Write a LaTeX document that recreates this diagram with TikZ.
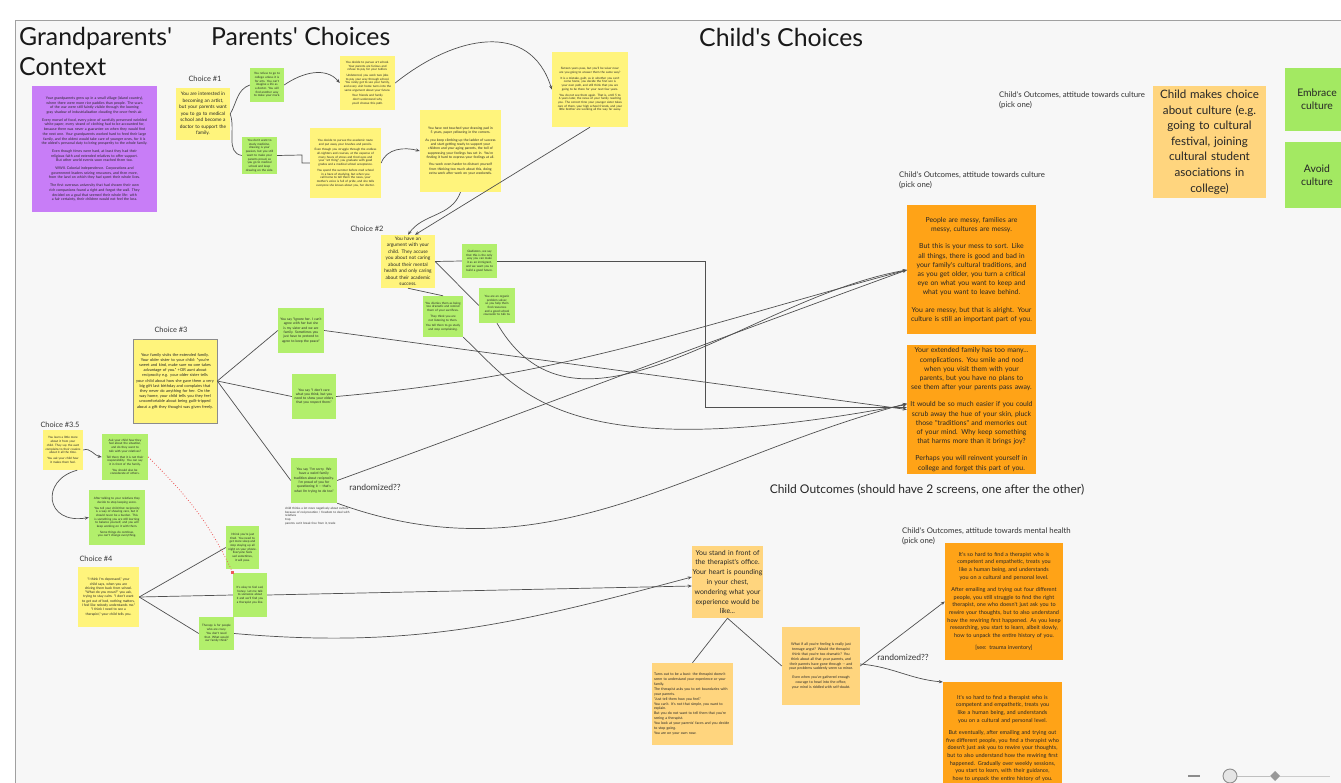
\documentclass[tikz,border=0pt]{standalone}
\usepackage{fontspec}
\setmainfont{Lato}
\newfontfamily\latofont{Lato}
\usetikzlibrary{arrows.meta}

\definecolor{canvas}{HTML}{F7F7F7}
\definecolor{frameline}{HTML}{A0A0A0}
\definecolor{stickyyellow}{HTML}{FFF47C}
\definecolor{stickygreen}{HTML}{B2EF6C}
\definecolor{choicegreen}{HTML}{A3E962}
\definecolor{stickyorange}{HTML}{FFA317}
\definecolor{stickypeach}{HTML}{FFD57E}
\definecolor{stickypurple}{HTML}{C87DF7}
\definecolor{wire}{HTML}{505050}
\definecolor{dotred}{HTML}{EE5A5A}

\newcommand\fsTiny{\fontsize{3.0}{3.7}\selectfont}
\newcommand\fsSmall{\fontsize{3.4}{4.3}\selectfont}
\newcommand\fsCtx{\fontsize{3.6}{4.7}\selectfont}
\newcommand\fsMid{\fontsize{4.0}{5.2}\selectfont}
\newcommand\fsChoice{\fontsize{4.8}{6.5}\selectfont}
\newcommand\fsOut{\fontsize{6.9}{9.2}\selectfont}
\newcommand\fsMH{\fontsize{5.5}{7.6}\selectfont}
\newcommand\fsPeach{\fontsize{6.9}{9.8}\selectfont}
\newcommand\fsLabel{\fontsize{7.4}{9}\selectfont}
\newcommand\fsNote{\fontsize{7.8}{9.2}\selectfont}
\newcommand\fsRand{\fontsize{8.5}{10}\selectfont}
\newcommand\fsSection{\fontsize{12}{14}\selectfont}
\newcommand\fsTitle{\fontsize{24.8}{30}\selectfont}

\hyphenpenalty=10000
\exhyphenpenalty=10000

\tikzset{
  sticky/.style={rectangle, inner sep=2pt, align=center, text=black!85},
  yel/.style={sticky, fill=stickyyellow},
  grn/.style={sticky, fill=stickygreen},
  org/.style={sticky, fill=stickyorange},
  peach/.style={sticky, fill=stickypeach},
  heading/.style={inner sep=0pt, anchor=west, font=\fsTitle, text=black!90},
  choicelabel/.style={inner sep=0pt, font=\fsLabel, text=black!80},
  caption/.style={inner sep=0pt, anchor=north west, align=left, font=\fsNote, text=black!80},
  wire/.style={draw=wire, line width=0.7pt},
  arr/.style={wire, -{Stealth[length=4pt,width=3.2pt]}},
  reddots/.style={draw=dotred, line width=0.8pt, dotted}
}

\begin{document}
\latofont
\begin{tikzpicture}[x=1pt,y=-1pt]
\useasboundingbox (0,0) rectangle (1341,783);
\fill[white] (0,0) rectangle (1341,783);
\fill[canvas] (15,20) rectangle (1341,783);
\draw[frameline, line width=0.9pt] (15,783) -- (15,20) -- (1341,20);

% ---------- section headings ----------
\node[heading] (hGrand) at (19,38) {Grandparents'};
\node[heading] (hContext) at (19,67) {Context};
\node[heading] (hParents) at (211,36) {Parents' Choices};
\node[heading] (hChild) at (699,37) {Child's Choices};

% ---------- grandparents' context ----------
\node[sticky, fill=stickypurple, minimum width=125pt, minimum height=126pt, text width=120pt, font=\fsCtx] (ctx) at (94.5,149) {
Your grandparents grew up in a small village (island country), where there were more rice paddies than people. The scars of the war were still faintly visible through the looming gray shadow of industrialization clouding the once-fresh air.\\[3pt]
Every morsel of food, every piece of carefully preserved wrinkled white paper, every strand of clothing had to be accounted for, because there was never a guarantee on when they would find the next one. Your grandparents worked hard to feed their large family, and the oldest would take care of younger ones, for it is the oldest's personal duty to bring prosperity to the whole family.\\[3pt]
Even though times were hard, at least they had their religious faith and extended relatives to offer support. But other world events soon reached them too.\\[3pt]
WWII. Colonial independence. Corporations and government leaders seizing resources, and then more, from the land on which they had spent their whole lives.\\[3pt]
The first overseas university that had chosen their own rich companions found a right and forgot the wall. They decided on a goal that seemed their whole life: with a fair certainty, their children would not feel the loss.};

% ---------- choice #1 ----------
\node[choicelabel] (lc1) at (205,79) {Choice \#1};
\node[yel, minimum width=54pt, minimum height=52pt, text width=52pt, inner xsep=1pt, font=\fsChoice] (c1) at (203,114)
{You are interested in\\becoming an artist,\\but your parents want\\you to go to medical\\school and become a\\doctor to support the\\family.};

\node[grn, minimum width=34pt, minimum height=34pt, text width=30pt, font=\fsTiny] (gA) at (267,85)
{You refuse to go to college unless it is for arts. You can't imagine a life as a doctor. You will find another way to make your mark.};
\node[grn, minimum width=35pt, minimum height=35pt, text width=31pt, font=\fsTiny] (gB) at (259.5,155.5)
{You don't want to study medicine, drawing is your passion, but you still want to make your parents proud, so you go to medical school and keep drawing on the side.};

\node[yel, minimum width=55pt, minimum height=54pt, text width=51pt, font=\fsTiny] (yC) at (367.5,83)
{You decide to pursue art school. Your parents are furious and refuse to pay for your tuition.\\[2pt]
Undeterred, you work two jobs to pay your way through school. You rarely get to see your family, and every visit home turns into the same argument about your future.\\[2pt]
Your friends and family don't understand why you'd choose this path.};

\node[yel, minimum width=71pt, minimum height=70pt, text width=67pt, font=\fsTiny] (yD) at (345.5,163)
{You decide to pursue the academic route and put away your brushes and pencils.\\[2pt]
Even though you struggle through the endless all-nighters and courses, at the expense of many hours of stress and tired eyes and your "art thing", you graduate with good grades and a medical school acceptance.\\[2pt]
You spend the summer before med school in a haze of studying, but when you call home to tell them the news, your mother's voice is full of pride, and she tells everyone she knows about you, her doctor.};

\node[yel, minimum width=81pt, minimum height=82pt, text width=76pt, font=\fsSmall] (yE) at (460.5,151)
{You have not touched your drawing pad in 5 years, paper yellowing in the corners.\\[3pt]
As you keep climbing up the ladder of success and start getting ready to support your children and your aging parents, the toll of suppressing your feelings has set in. You're finding it hard to express your feelings at all.\\[3pt]
You work even harder to distract yourself from thinking too much about this, doing extra work after work on your weekends.};

\node[yel, minimum width=76pt, minimum height=75pt, text width=72pt, font=\fsTiny] (yF) at (590,89.5)
{Sixteen years pass, but you'll be wiser now: are you going to answer them the same way?\\[2pt]
It is a mistake, guilt, as in whether you can't come home, you decide the first son is your own path, and still think that you are going to be there for your next few years.\\[2pt]
You do not see them again. That is, until 5 to 6 years later, the news of your family reaching you. The correct time your younger sister takes care of them, your high school friends, and your little brother are working all the way far away.};

% ---------- choice #2 ----------
\node[choicelabel] (lc2) at (367,229) {Choice \#2};
\node[yel, minimum width=54pt, minimum height=53pt, text width=52pt, inner xsep=1pt, font=\fsChoice] (c2) at (408,261.5)
{You have an\\argument with your\\child. They accuse\\you about not caring\\about their mental\\health and only caring\\about their academic\\success.};

\node[grn, minimum width=35pt, minimum height=34pt, text width=31pt, font=\fsTiny] (gG) at (479.5,261)
{Gladiators, we say that this is the only way you can make it as an immigrant, and we want you to build a good future.};
\node[grn, minimum width=36pt, minimum height=35pt, text width=32pt, font=\fsTiny] (gH) at (497,305.5)
{You are an organic problem solver, so you help them find resources and a good school counselor to talk to.};
\node[grn, minimum width=40pt, minimum height=41pt, text width=36pt, font=\fsTiny] (gI) at (443,316.5)
{You dismiss them as being too dramatic and remind them of your sacrifices.\\[2pt]
They think you are not listening to them.\\[2pt]
You tell them to go study and stop complaining.};

% ---------- choice #3 ----------
\node[choicelabel] (lc3) at (171,330) {Choice \#3};
\node[yel, draw=black!45, line width=0.6pt, minimum width=84pt, minimum height=84pt, text width=80pt, font=\fsMid] (c3) at (175,381)
{Your family visits the extended family. Your older sister to your child: "you're sweet and kind, make sure no one takes advantage of you." +OR aunt about reciprocity e.g. your older sister tells your child about how she gave them a very big gift last birthday and complains that they never do anything for her. On the way home, your child tells you they feel uncomfortable about being guilt-tripped about a gift they thought was given freely.};

\node[grn, minimum width=46pt, minimum height=45pt, text width=42pt, font=\fsSmall] (gJ) at (301,330.5)
{You say "Ignore her. I can't agree with her but she is my sister and we are family. Sometimes you just have to pretend to agree to keep the peace"};
\node[grn, minimum width=44pt, minimum height=45pt, text width=40pt, font=\fsSmall] (gK) at (314,396.5)
{You say "I don't care what you think, but you need to show your elders that you respect them."};
\node[grn, minimum width=46pt, minimum height=45pt, text width=42pt, font=\fsSmall] (gL) at (314,480.5)
{You say "I'm sorry. We have a weird family tradition about reciprocity. I'm proud of you for questioning it -- that's what I'm trying to do too"};
\node[caption, font=\fsTiny, text width=72pt] (noteL) at (285,507)
{child thinks a lot more negatively about culture because of reciprocation / freedom to deal with relatives\\trap\\parents can't break free from it, trade};
\node[inner sep=0pt, font=\fsRand, text=black!80] (rnd1) at (375,487) {randomized??};

% ---------- choice #3.5 ----------
\node[choicelabel] (lc35) at (60,425) {Choice \#3.5};
\node[yel, minimum width=40pt, minimum height=40pt, text width=36pt, font=\fsTiny] (y35) at (63,450)
{You learn a little more about it from your child. They say the aunt complains to their cousins about it all the time.\\[2pt]
You ask your child how it makes them feel.};
\node[grn, minimum width=46pt, minimum height=46pt, text width=42pt, font=\fsTiny] (gM) at (125,457)
{Ask your child how they feel about the situation, and do they want to talk with your relatives?\\[2pt]
Tell them that it is not their responsibility. You can say it in front of the family.\\[2pt]
You should also be considerate of others.};
\node[grn, minimum width=56pt, minimum height=55pt, text width=52pt, font=\fsTiny] (gN) at (117,517.5)
{After talking to your relatives they decide to stop keeping score.\\[2pt]
You tell your child that reciprocity is a way of showing care, but it should never be a burden. This is something you are still learning to balance yourself, and you will keep working on it with them.\\[2pt]
Some things do continue, you can't change everything.};

% ---------- choice #4 ----------
\node[choicelabel] (lc4) at (96,559) {Choice \#4};
\node[yel, minimum width=61pt, minimum height=60pt, text width=57pt, font=\fsSmall] (c4) at (108.5,597)
{"I think I'm depressed," your child says, when you are driving them back from school.\\
"What do you mean?" you ask, trying to stay calm. "I don't want to get out of bed, nothing matters, I feel like nobody understands me."\\
"I think I need to see a therapist," your child tells you.};

\node[grn, minimum width=33pt, minimum height=43pt, text width=29pt, font=\fsTiny] (gO) at (242.5,547.5)
{I think you're just tired. You need to get more sleep and stop staying up all night on your phone. Everyone feels sad sometimes, it will pass.};
\node[grn, minimum width=34pt, minimum height=44pt, text width=30pt, font=\fsTiny] (gP) at (250,595)
{It's okay to feel sad, honey. Let me talk to someone about it and we'll find you a therapist you like.};
\node[grn, minimum width=35pt, minimum height=33pt, text width=31pt, font=\fsTiny] (gQ) at (216.5,633.5)
{Therapy is for people who are crazy. You don't need that. What would our family think?};

% ---------- therapist branch ----------
\node[peach, minimum width=71pt, minimum height=72pt, text width=70pt, inner xsep=0.5pt, font=\fsPeach] (th) at (727.5,582)
{You stand in front of\\the therapist's office.\\Your heart is pounding\\in your chest,\\wondering what your\\experience would be\\like...};
\node[peach, minimum width=81pt, minimum height=82pt, text width=77pt, font=\fontsize{3.6}{4.9}\selectfont, align=left] (pR) at (692.5,704)
{Turns out to be a bust: the therapist doesn't seem to understand your experience or your family.\\
The therapist asks you to set boundaries with your parents.\\
"Just tell them how you feel."\\
You can't. It's not that simple, you want to explain.\\
But you do not want to tell them that you're seeing a therapist.\\
You look at your parents' faces and you decide to stop going.\\
You are on your own now.};
\node[peach, minimum width=78pt, minimum height=78pt, text width=74pt, font=\fontsize{3.6}{4.8}\selectfont] (pS) at (821,666)
{What if all you're feeling is really just teenage angst? Would the therapist think that you're too dramatic? You think about all that your parents, and their parents have gone through -- and your problems suddenly seem so minor.\\[4pt]
Even when you've gathered enough courage to head into the office, your mind is riddled with self-doubt.};
\node[inner sep=0pt, font=\fsRand, text=black!80] (rnd2) at (903,657) {randomized??};

% ---------- child outcomes ----------
\node[caption] (capTop) at (999,92) {Child's Outcomes, attitude towards culture\\(pick one)};
\node[caption] (capCult) at (899,172) {Child's Outcomes, attitude towards culture\\(pick one)};
\node[caption] (capMH) at (902,528) {Child's Outcomes, attitude towards mental health\\(pick one)};
\node[inner sep=0pt, font=\fsSection, text=black!85] (capScreens) at (927,490) {Child Outcomes (should have 2 screens, one after the other)};

\node[org, minimum width=129pt, minimum height=129pt, text width=125pt, font=\fsOut] (o1) at (971.5,270)
{People are messy, families are messy, cultures are messy.\\[8pt]
But this is your mess to sort. Like all things, there is good and bad in your family's cultural traditions, and as you get older, you turn a critical eye on what you want to keep and what you want to leave behind.\\[8pt]
You are messy, but that is alright. Your culture is still an important part of you.};
\node[org, minimum width=129pt, minimum height=129pt, text width=125pt, font=\fsOut] (o2) at (971.5,409.5)
{Your extended family has too many... complications. You smile and nod when you visit them with your parents, but you have no plans to see them after your parents pass away.\\[8pt]
It would be so much easier if you could scrub away the hue of your skin, pluck those "traditions" and memories out of your mind. Why keep something that harms more than it brings joy?\\[8pt]
Perhaps you will reinvent yourself in college and forget this part of you.};

\node[org, minimum width=118pt, minimum height=117pt, text width=114pt, font=\fsMH] (mh1) at (1004,601.5)
{It's so hard to find a therapist who is competent and empathetic, treats you like a human being, and understands you on a cultural and personal level.\\[5pt]
After emailing and trying out four different people, you still struggle to find the right therapist, one who doesn't just ask you to rewire your thoughts, but to also understand how the rewiring first happened. As you keep researching, you start to learn, albeit slowly, how to unpack the entire history of you.\\[5pt]
[see: trauma inventory]};
\node[org, anchor=north, minimum width=119pt, minimum height=110pt, text width=115pt, font=\fsMH] (mh2) at (1002.5,682)
{\rule{0pt}{6pt}It's so hard to find a therapist who is competent and empathetic, treats you like a human being, and understands you on a cultural and personal level.\\[5pt]
But eventually, after emailing and trying out five different people, you find a therapist who doesn't just ask you to rewire your thoughts, but to also understand how the rewiring first happened. Gradually over weekly sessions, you start to learn, with their guidance, how to unpack the entire history of you.};

\node[peach, minimum width=113pt, minimum height=112pt, text width=111pt, inner xsep=1pt, font=\fontsize{11.6}{15.6}\selectfont] (cm) at (1209.5,142)
{Child makes choice\\about culture (e.g.\\going to cultural\\festival, joining\\cultural student\\asociations in\\college)};
\node[sticky, fill=choicegreen, minimum width=64pt, minimum height=63pt, text width=58pt, font=\fontsize{10.4}{13}\selectfont] (emb) at (1317,99.5) {Embrace\\culture};
\node[sticky, fill=choicegreen, minimum width=64pt, minimum height=66pt, text width=58pt, font=\fontsize{10.4}{13}\selectfont] (avd) at (1317,175) {Avoid\\culture};

% ---------- connectors: parents' choices ----------
\draw[wire] (c1.east) to[out=60,in=200] (gA.west);
\draw[wire] (c1.east) to[out=-70,in=170] (gB.west);
\draw[arr] (gA.east) to[out=35,in=130] (yC.west);
\draw[wire] (gB.east) -- (302,155) |- (yD.west);
\draw[arr] (yD.east) to[out=70,in=165] (yE.west);
\draw[arr] (yC.east) .. controls (455,35) and (530,20) .. (yF.west);
\draw[arr] (yF.south) -- ([xshift=7pt]c2.north);
\draw[arr] (yE.south) to[out=-110,in=55] (c2.north);

% ---------- connectors: choice #2 ----------
\draw[wire] (c2.east) -- (gG.west);
\draw[wire] (c2.east) -- (gH.west);
\draw[wire] (c2.south) -- (gI.north);
\draw[arr] (gG.east) -- (705,261) |- ([yshift=2pt]o2.west);
\draw[arr] (gH.south) to[out=-60,in=190] (o1.west);
\draw[arr] (gI.south east) .. controls (520,390) and (560,470) .. ([yshift=5pt]o2.west);

% ---------- connectors: choice #3 ----------
\draw[wire] (c3.east) -- (gJ.west);
\draw[wire] (c3.east) -- (gK.west);
\draw[wire] (c3.east) -- (gL.west);
\draw[arr] (gJ.east) -- (o2.west);
\draw[arr] (gK.east) to[out=5,in=195] (o1.west);
\draw[arr] (gL.east) to[out=20,in=200] (o1.west);
\draw[arr] (gL.south east) to[out=-20,in=195] ([yshift=6pt]o2.west);

% ---------- connectors: choice #3.5 ----------
\draw[arr] (y35.east) to[out=20,in=170] (gM.west);
\draw[arr] ([xshift=-6pt]y35.south east) .. controls (40,480) and (45,525) .. (gN.west);
\draw[reddots] (gM.east) to[out=-45,in=115] (gP.north west);
\fill[dotred] ([shift={(-1.5pt,-1.5pt)}]gP.north west) rectangle ([shift={(1.5pt,1.5pt)}]gP.north west);

% ---------- connectors: choice #4 ----------
\draw[wire] (c4.east) -- (gO.west);
\draw[wire] (c4.east) -- (gP.west);
\draw[wire] (c4.east) -- (gQ.west);
\draw[arr] (gP.east) -- ([yshift=-4pt]th.west);
\draw[arr] (gQ.east) to[out=-5,in=195] ([yshift=5pt]th.west);
\draw[wire] (th.south) -- (pR.north);
\draw[wire] (th.south) -- (pS.west);
\draw[arr] (pS.east) -- (mh1.west);
\draw[arr] ([yshift=2pt]pS.east) to[out=-5,in=175] (mh2.north west);

% ---------- zoom control ----------
\draw[black!45, line width=2pt] (1188,776) -- (1200,776);
\draw[black!25, line width=0.8pt] (1237,776) -- (1270,776);
\draw[black!20, line width=0.8pt] (1280,776) -- (1330,776);
\draw[black!45, line width=0.9pt, fill=black!10] (1230,776) circle (7pt);
\fill[black!40] (1275,771) -- (1280,776) -- (1275,781) -- (1270,776) -- cycle;
\end{tikzpicture}
\end{document}
